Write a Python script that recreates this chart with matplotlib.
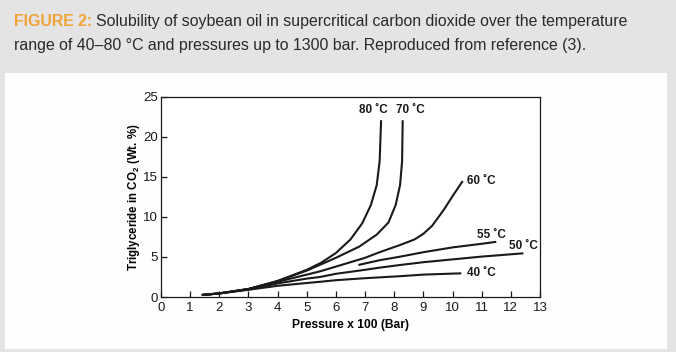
import matplotlib.pyplot as plt

plt.rcParams['font.family'] = ['Liberation Sans', 'DejaVu Sans']

# curve data (pressure x100 bar, wt. %)
p80 = [1.4, 2, 3, 4, 5, 5.5, 6, 6.5, 6.9, 7.2, 7.4, 7.5, 7.55]
s80 = [0.25, 0.45, 1.0, 2.0, 3.4, 4.3, 5.5, 7.2, 9.2, 11.5, 14, 17, 22.1]
p70 = [1.4, 2, 3, 4, 5, 5.5, 6, 6.8, 7.4, 7.8, 8.05, 8.2, 8.27, 8.29]
s70 = [0.25, 0.45, 1.0, 2.0, 3.3, 4.1, 4.9, 6.3, 7.8, 9.3, 11.5, 14, 17, 22.1]
p60 = [1.4, 2, 3, 4, 5, 5.45, 6, 7, 7.5, 8.2, 8.7, 9.0, 9.3, 9.7, 10.0, 10.35]
s60 = [0.25, 0.45, 1.0, 1.9, 2.8, 3.2, 3.8, 4.9, 5.6, 6.5, 7.2, 7.9, 8.9, 10.9, 12.6, 14.5]
p55 = [6.77, 7.5, 8.2, 9, 10, 11, 11.5]
s55 = [4.0, 4.6, 5.04, 5.6, 6.2, 6.65, 6.9]
p50 = [1.4, 2, 3, 4, 5, 5.45, 6, 7, 7.5, 8.2, 9, 10, 11, 12.43]
s50 = [0.25, 0.45, 0.95, 1.7, 2.3, 2.5, 2.9, 3.4, 3.67, 4.0, 4.35, 4.7, 5.05, 5.46]
p40 = [1.4, 2, 3, 4, 5, 5.45, 6, 7, 8.2, 9, 10.3]
s40 = [0.25, 0.45, 0.9, 1.4, 1.75, 1.9, 2.1, 2.35, 2.6, 2.8, 2.96]

fig = plt.figure(figsize=(6.76, 3.52), dpi=100)
fig.patch.set_facecolor('#e4e4e4')

# white panel under the chart
bg = fig.add_axes([0.0074, 0.0085, 0.979, 0.784], zorder=0)
bg.set_facecolor('#fefefe')
bg.set_xticks([])
bg.set_yticks([])
for sp in bg.spines.values():
    sp.set_visible(False)

# caption
fs = 11.4
t1 = fig.text(0.021, 0.94, 'FIGURE 2:', color='#f0a437', fontsize=fs, fontweight='bold',
              ha='left', va='center')
fig.canvas.draw()
bb = t1.get_window_extent().transformed(fig.transFigure.inverted())
fig.text(bb.x1 + 0.006, 0.94, 'Solubility of soybean oil in supercritical carbon dioxide over the temperature',
         color='#2a2a2a', fontsize=fs, ha='left', va='center')
fig.text(0.021, 0.872, 'range of 40\u201380 \u00b0C and pressures up to 1300 bar. Reproduced from reference (3).',
         color='#2a2a2a', fontsize=fs, ha='left', va='center')

ax = fig.add_axes([0.2382, 0.15625, 0.5606, 0.5682], zorder=2)
ax.set_facecolor('white')

for p, s in [(p80, s80), (p70, s70), (p60, s60), (p55, s55), (p50, s50), (p40, s40)]:
    ax.plot(p, s, color='#1a1a1a', lw=1.5, solid_capstyle='butt')

lab = dict(fontsize=8.5, fontweight='bold', color='#1a1a1a')
ax.text(7.29, 23.4, '80 ˚C', ha='center', va='center', **lab)
ax.text(8.55, 23.4, '70 ˚C', ha='center', va='center', **lab)
ax.text(10.5, 14.5, '60 ˚C', ha='left', va='center', **lab)
ax.text(10.85, 7.8, '55 ˚C', ha='left', va='center', **lab)
ax.text(11.95, 6.4, '50 ˚C', ha='left', va='center', **lab)
ax.text(10.5, 3.0, '40 ˚C', ha='left', va='center', **lab)

ax.set_xlim(0, 13)
ax.set_ylim(0, 25)
ax.set_xticks(range(0, 14))
ax.set_yticks(range(0, 26, 5))
ax.tick_params(direction='in', length=4, width=0.9, labelsize=9.5, colors='#1a1a1a')
ax.tick_params(axis='x', pad=3.5)
ax.tick_params(axis='y', pad=2)
for sp in ax.spines.values():
    sp.set_linewidth(0.9)
    sp.set_color('#1a1a1a')

ax.set_xlabel('Pressure x 100 (Bar)', fontsize=8.7, fontweight='bold', labelpad=4)
ax.set_ylabel('Triglyceride in CO$_\\mathregular{2}$ (Wt. %)', fontsize=8.3, fontweight='bold', labelpad=1)

plt.savefig('out.png', dpi=100, facecolor=fig.get_facecolor())
